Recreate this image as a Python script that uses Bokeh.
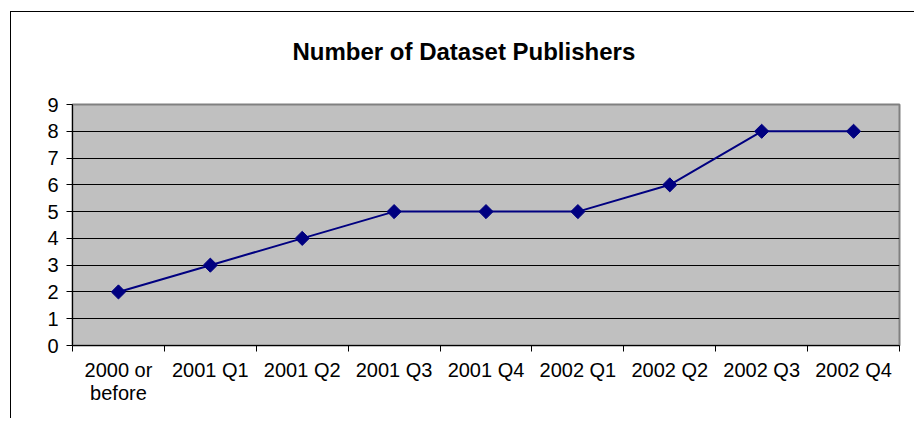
from bokeh.plotting import figure
from bokeh.models import (FactorRange, Range1d, LinearAxis, CategoricalAxis,
                          FixedTicker, ColumnDataSource, Title)
from bokeh.embed import file_html
from bokeh.resources import INLINE
import math

# ---- data ----
categories = ["2000 or\nbefore", "2001 Q1", "2001 Q2", "2001 Q3", "2001 Q4",
              "2002 Q1", "2002 Q2", "2002 Q3", "2002 Q4"]
publishers = [2, 3, 4, 5, 5, 5, 6, 8, 8]
y_ticks = [0, 1, 2, 3, 4, 5, 6, 7, 8, 9]
title_text = "Number of Dataset Publishers"

FONT = "Liberation Sans"

src = ColumnDataSource(dict(cat=categories, val=publishers))

p = figure(width=904, height=407,
           x_range=FactorRange(*categories), y_range=Range1d(0, 9),
           x_axis_type=None, output_backend="svg", toolbar_location=None,
           min_border_left=61, min_border_right=16, min_border_top=92,
           min_border_bottom=74)
p.styles = {"margin-left": "10px", "margin-top": "11px",
            "border-left": "1px solid black", "border-top": "1px solid black"}
p.title.visible = False

# invisible spacer between the plot area and the title
spacer = LinearAxis(ticker=FixedTicker(ticks=[0]), axis_line_color=None,
                    major_tick_line_color=None, minor_tick_line_color=None,
                    major_label_text_color=None, major_label_text_font_size="1px",
                    major_tick_out=40, major_tick_in=0, major_label_standoff=0)
p.add_layout(spacer, "above")

title = Title(text=title_text, align="left", offset=220, standoff=0,
              text_font=FONT, text_font_size="24px", text_font_style="bold",
              text_color="black")
p.add_layout(title, "above")

p.background_fill_color = "#C0C0C0"
p.border_fill_color = "white"
p.outline_line_color = "#808080"
p.outline_line_width = 2

# y axis
yax = p.yaxis[0]
yax.ticker = FixedTicker(ticks=y_ticks)
yax.minor_tick_line_color = None
yax.major_tick_out = 6
yax.major_tick_in = 0
yax.axis_line_color = "black"
yax.major_tick_line_color = "black"
yax.major_label_standoff = 8
yax.major_label_text_font = FONT
yax.major_label_text_font_size = "20px"
yax.major_label_text_color = "black"

p.xgrid.visible = False
p.ygrid.ticker = FixedTicker(ticks=y_ticks[1:-1])
p.ygrid.grid_line_color = "black"
p.ygrid.grid_line_width = 1

# x axis: ticks at category boundaries (no labels)
tick_axis = LinearAxis(ticker=FixedTicker(ticks=list(range(len(categories) + 1))),
                       major_label_text_font_size="1px", major_label_text_color=None,
                       major_label_standoff=0,
                       major_tick_out=6, major_tick_in=0,
                       axis_line_color="black", major_tick_line_color="black",
                       minor_tick_line_color=None)
p.add_layout(tick_axis, "below")

# x axis: category labels (no ticks)
label_axis = CategoricalAxis(major_tick_line_color=None, axis_line_color=None,
                             major_tick_out=0, major_tick_in=0,
                             major_label_standoff=7,
                             major_label_text_font=FONT,
                             major_label_text_font_size="20px",
                             major_label_text_color="black",
                             major_label_text_line_height=1.05)
p.add_layout(label_axis, "below")

p.line("cat", "val", source=src, line_color="#000080", line_width=2)
p.scatter("cat", "val", source=src, marker="square", size=10, angle=math.pi / 4,
          fill_color="#000080", line_color="#000080")

open("out.html", "w").write(file_html(p, INLINE))
